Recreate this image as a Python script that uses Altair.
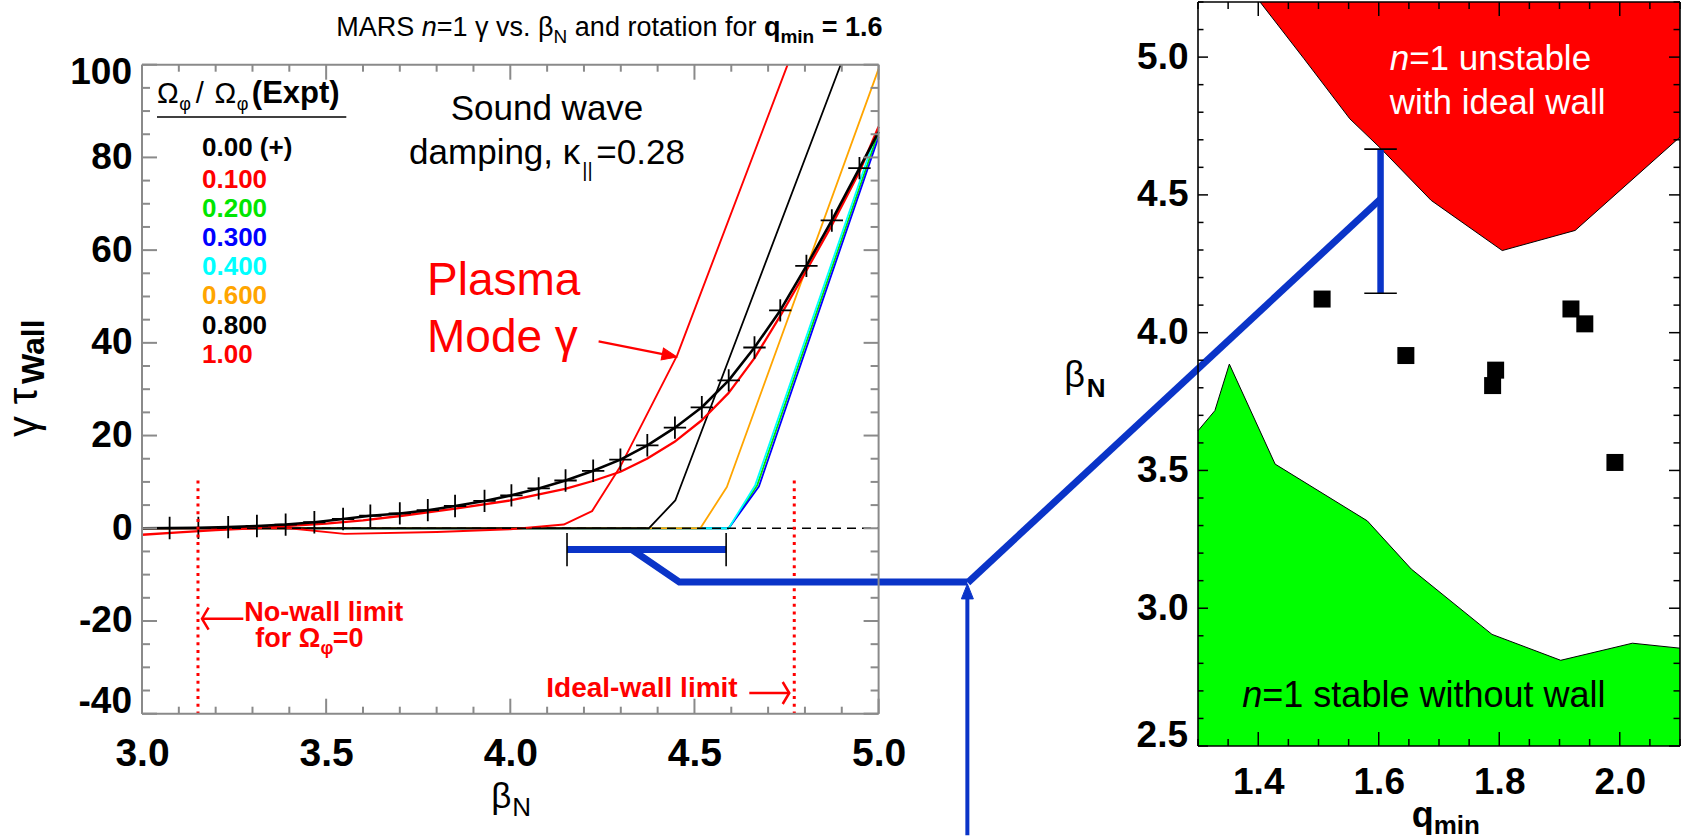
import altair as alt
import pandas as pd

FONT = "Liberation Sans, Arial, Helvetica, sans-serif"

# ---------------- values ----------------
# Left panel: gamma*tau_wall versus beta_N, one pair of lists per rotation fraction
legend_labels = ["0.00 (+)", "0.100", "0.200", "0.300", "0.400", "0.600", "0.800", "1.00"]
legend_colors = ["#000000", "#ff0000", "#00e600", "#0000ff", "#00ffff", "#ffa500", "#000000", "#ff0000"]

beta_r000 = [3.0, 3.075, 3.153, 3.234, 3.312, 3.39, 3.468, 3.546, 3.62, 3.70, 3.776, 3.85, 3.93,
             4.003, 4.077, 4.15, 4.225, 4.299, 4.372, 4.447, 4.52, 4.593, 4.663, 4.733, 4.804,
             4.873, 4.948, 5.0]
gamma_r000 = [0.0, 0.05, 0.1, 0.25, 0.5, 0.8, 1.3, 2.0, 2.7, 3.2, 3.9, 4.8, 5.9, 7.1, 8.6, 10.3,
              12.4, 14.8, 17.9, 21.7, 26.1, 31.9, 39.0, 47.0, 56.6, 66.4, 77.7, 85.5]
marker_beta = [3.075, 3.153, 3.234, 3.312, 3.39, 3.468, 3.546, 3.62, 3.70, 3.776, 3.85, 3.93,
               4.003, 4.077, 4.15, 4.225, 4.299, 4.372, 4.447, 4.52, 4.593, 4.663, 4.733, 4.804,
               4.873, 4.948]
marker_gamma = [0.05, 0.1, 0.25, 0.5, 0.8, 1.3, 2.0, 2.7, 3.2, 3.9, 4.8, 5.9, 7.1, 8.6, 10.3,
                12.4, 14.8, 17.9, 21.7, 26.1, 31.9, 39.0, 47.0, 56.6, 66.4, 77.7]

beta_r010 = [3.0, 3.40, 3.55, 3.80, 4.00, 4.145, 4.222, 4.30, 4.453, 4.753]
gamma_r010 = [0.0, 0.0, -1.2, -0.8, -0.2, 0.8, 3.7, 13.5, 37.3, 100.0]
beta_r020 = [3.0, 4.593, 4.670, 5.0]
gamma_r020 = [0.0, 0.0, 9.2, 85.5]
beta_r030 = [3.0, 4.593, 4.675, 5.0]
gamma_r030 = [0.0, 0.0, 9.0, 84.4]
beta_r040 = [3.0, 4.593, 4.665, 5.0]
gamma_r040 = [0.0, 0.0, 9.3, 86.6]
beta_r060 = [3.0, 4.516, 4.588, 5.0]
gamma_r060 = [0.0, 0.0, 8.9, 99.1]
beta_r080 = [3.0, 4.376, 4.448, 4.897]
gamma_r080 = [0.0, 0.0, 6.0, 100.0]
beta_r100 = [3.0, 3.1, 3.2, 3.3, 3.4, 3.5, 3.6, 3.701, 3.846, 4.0, 4.149, 4.224, 4.299, 4.371,
             4.445, 4.52, 4.593, 4.663, 4.733, 4.804, 4.873, 4.948, 5.0]
gamma_r100 = [-1.4, -0.9, -0.4, 0.0, 0.5, 1.0, 1.7, 2.65, 4.2, 6.0, 8.5, 10.2, 12.2, 15.0, 18.6,
              23.3, 29.2, 36.7, 45.8, 55.6, 65.4, 76.9, 86.6]

limit_beta = [3.152, 4.771]          # no-wall and ideal-wall limits
limit_gamma_top = 10.3

range_beta = [4.154, 4.586]          # blue beta_N range bar
range_gamma = -4.6
link_beta = [4.330, 4.459, 5.241]
link_gamma = [-4.6, -11.6, -11.6]
arrow_gamma = [-66.2, -13.5]

left_y_ticks = [-20, 0, 20, 40, 60, 80]
left_x_ticks = [3.0, 3.5, 4.0, 4.5, 5.0]

# Right panel: beta_N versus q_min
unstable_q = [1.403, 1.476, 1.552, 1.604, 1.687, 1.805, 1.926, 2.1]
unstable_beta = [5.2, 4.994, 4.776, 4.667, 4.48, 4.298, 4.371, 4.71]
stable_q = [1.3, 1.328, 1.352, 1.428, 1.581, 1.654, 1.788, 1.902, 2.021, 2.1]
stable_beta = [3.644, 3.717, 3.886, 3.523, 3.317, 3.142, 2.905, 2.811, 2.873, 2.855]
shot_q = [1.506, 1.645, 1.794, 1.789, 1.919, 1.942, 1.992]
shot_beta = [4.122, 3.917, 3.864, 3.808, 4.086, 4.032, 3.529]
errbar_q = 1.603
errbar_beta = [4.143, 4.666]
diag_q = [0.918, 1.603]
diag_beta = [3.093, 4.485]

right_y_ticks = [3.0, 3.5, 4.0, 4.5, 5.0]
right_x_ticks = [1.4, 1.6, 1.8, 2.0]

# ---------------- layout (page pixels) ----------------
L_X0, L_X1, L_TOP, L_BOT = 141.7, 878.3, 62.7, 711.7
R_X0, R_X1, R_BOT = 1197.3, 1679.3, 744.0
LW = L_X1 - L_X0
LH = L_BOT
G_PER = (L_BOT - L_TOP) / 140.0
G_TOP = -40 + LH / G_PER
RW = R_X1 - R_X0
RH = R_BOT
SPACING = R_X0 - L_X1

FRAME_L = "#8a8a8a"
NAVY = "#0a34c8"
ONE = pd.DataFrame({"k": [0]})

LXS = alt.Scale(domain=[3.0, 5.0], nice=False, zero=False)
LYS = alt.Scale(domain=[-40, G_TOP], nice=False, zero=False)
RXS = alt.Scale(domain=[1.3, 2.1], nice=False, zero=False)
RYS = alt.Scale(domain=[2.5, 5.2], nice=False, zero=False)

LXA = alt.Axis(values=left_x_ticks, labelExpr="format(datum.value, '.1f')", labelFont=FONT,
               labelFontSize=39, labelFontWeight="bold", labelColor="black", labelPadding=21,
               ticks=False, tickSize=0, domain=False, grid=False, title=None, labelFlush=False)
LYA = alt.Axis(values=left_y_ticks, labelExpr="'' + datum.value", labelFont=FONT,
               labelFontSize=37, labelFontWeight="bold", labelColor="black", labelPadding=10,
               ticks=False, tickSize=0, domain=False, grid=False, title=None, labelFlush=False)
RXA = alt.Axis(values=right_x_ticks, labelExpr="format(datum.value, '.1f')", labelFont=FONT,
               labelFontSize=37, labelFontWeight="bold", labelColor="black", labelPadding=18,
               ticks=False, tickSize=0, domain=False, grid=False, title=None, labelFlush=False)
RYA = alt.Axis(values=right_y_ticks, labelExpr="format(datum.value, '.1f')", labelFont=FONT,
               labelFontSize=37, labelFontWeight="bold", labelColor="black", labelPadding=10,
               ticks=False, tickSize=0, domain=False, grid=False, title=None, labelFlush=False)


def lx(f):
    return alt.X(f, type="quantitative", scale=LXS, axis=LXA)


def ly(f):
    return alt.Y(f, type="quantitative", scale=LYS, axis=LYA)


def rx(f):
    return alt.X(f, type="quantitative", scale=RXS, axis=RXA)


def ry(f):
    return alt.Y(f, type="quantitative", scale=RYS, axis=RYA)


def T(x, y, s, size, color="black", weight="normal", style="normal", align="left", angle=0):
    return alt.Chart(ONE).mark_text(text=s, font=FONT, fontSize=size, fontWeight=weight,
                                    fontStyle=style, color=color, align=align,
                                    baseline="alphabetic", angle=angle).encode(
        x=alt.value(x), y=alt.value(y))


def run(x0, y0, pieces, color="black"):
    """pieces: (text, size, weight, style, baseline shift, lead em, advance em)"""
    out = []
    x = x0
    for s, size, w, st, dy, lead, adv in pieces:
        x += lead * size
        out.append(T(x, y0 + dy, s, size, color, w, st))
        x += adv * size
    return out


def curve(b, g, color, width, dash=None):
    df = pd.DataFrame({"b": b, "g": g, "i": list(range(len(b)))})
    kw = dict(color=color, strokeWidth=width, strokeJoin="round")
    if dash:
        kw["strokeDash"] = dash
    return alt.Chart(df).mark_line(**kw).encode(x=lx("b"), y=ly("g"), order="i:Q")


def lseg(b1, g1, b2, g2, color, width, dash=None):
    df = pd.DataFrame({"b1": b1, "g1": g1, "b2": b2, "g2": g2})
    kw = dict(color=color, strokeWidth=width)
    if dash:
        kw["strokeDash"] = dash
    return alt.Chart(df).mark_rule(**kw).encode(x=lx("b1"), x2=alt.X2("b2"), y=ly("g1"),
                                                y2=alt.Y2("g2"))


def pxline(x1, y1, x2, y2, color, width):
    return alt.Chart(ONE).mark_rule(color=color, strokeWidth=width).encode(
        x=alt.value(x1), x2=alt.value(x2), y=alt.value(y1), y2=alt.value(y2))


def pxshape(x, y, path, size, color, filled, width=1.0, angle=0):
    kw = dict(shape=path, size=size, filled=filled, opacity=1, angle=angle)
    if filled:
        kw.update(fill=color, stroke=color, strokeWidth=width)
    else:
        kw.update(stroke=color, strokeWidth=width, fill="transparent")
    return alt.Chart(ONE).mark_point(**kw).encode(x=alt.value(x), y=alt.value(y))


# ======================= LEFT PANEL =======================
L = []
# invisible anchor so the left plot edge lands at page x = L_X0
L.append(alt.Chart(ONE).mark_rule(strokeOpacity=0, strokeWidth=1).encode(
    x=alt.value(-L_X0 + 0.5), x2=alt.value(-L_X0 + 0.5), y=alt.value(300), y2=alt.value(301)))

L.append(curve(beta_r020, gamma_r020, legend_colors[2], 1.8))
L.append(curve(beta_r030, gamma_r030, legend_colors[3], 1.8))
L.append(curve(beta_r040, gamma_r040, legend_colors[4], 1.8))
L.append(curve(beta_r060, gamma_r060, legend_colors[5], 1.8))
L.append(curve(beta_r080, gamma_r080, legend_colors[6], 1.8))
L.append(curve(beta_r010, gamma_r010, legend_colors[1], 1.9))
L.append(curve(beta_r100, gamma_r100, legend_colors[7], 2.3))
L.append(curve(beta_r000, gamma_r000, legend_colors[0], 2.6))
# dashed zero line
L.append(curve([3.0, 5.0], [0.0, 0.0], "black", 1.6, dash=[9, 6]))
# plus markers of the zero-rotation case
L.append(alt.Chart(pd.DataFrame({"b": marker_beta, "g": marker_gamma})).mark_point(
    shape="M-1,0L1,0M0,-1L0,1", size=500, filled=False, stroke="black", strokeWidth=1.8,
    opacity=1).encode(x=lx("b"), y=ly("g")))
# stability limits (red dotted)
L.append(lseg(limit_beta, [limit_gamma_top] * 2, limit_beta, [-40, -40], "#ff0000", 3,
              dash=[3, 4.7]))

# blue connector from the beta_N range
L.append(lseg([range_beta[0]], [range_gamma], [range_beta[1]], [range_gamma], NAVY, 7))
L.append(lseg(range_beta, [-1.0, -1.0], range_beta, [-8.2, -8.2], "black", 1.6))
L.append(alt.Chart(pd.DataFrame({"b": link_beta, "g": link_gamma, "i": [0, 1, 2]})).mark_line(
    color=NAVY, strokeWidth=7, strokeJoin="miter").encode(x=lx("b"), y=ly("g"), order="i:Q"))
L.append(lseg([link_beta[2]], [arrow_gamma[0]], [link_beta[2]], [arrow_gamma[1]], NAVY, 4))
L.append(alt.Chart(pd.DataFrame({"b": [link_beta[2]], "g": [-12.0]})).mark_point(
    shape="M0,0L0.4,1L-0.4,1Z", size=900, filled=True, fill=NAVY, stroke=NAVY, strokeWidth=1,
    opacity=1).encode(x=lx("b"), y=ly("g")))

# frame and inward ticks
L.append(pxline(0, L_TOP, LW, L_TOP, FRAME_L, 2))
L.append(pxline(0, L_BOT, LW, L_BOT, FRAME_L, 2))
L.append(pxline(0, L_TOP, 0, L_BOT, FRAME_L, 2))
L.append(pxline(LW, L_TOP, LW, L_BOT, FRAME_L, 2))
gy_minor = [v for v in range(-40, 101, 5) if v % 20 != 0]
gy_major = [v for v in range(-40, 101, 20)]
bx_all = [round(3.0 + 0.1 * i, 2) for i in range(21)]
bx_major = [v for v in bx_all if abs(v * 2 - round(v * 2)) < 1e-6]
bx_minor = [v for v in bx_all if v not in bx_major]
for vals, ln in ((gy_minor, 8), (gy_major, 15)):
    d = pd.DataFrame({"v": vals})
    L.append(alt.Chart(d).mark_rule(color=FRAME_L, strokeWidth=2).encode(
        y=ly("v"), x=alt.value(0), x2=alt.value(ln)))
    L.append(alt.Chart(d).mark_rule(color=FRAME_L, strokeWidth=2).encode(
        y=ly("v"), x=alt.value(LW - ln), x2=alt.value(LW)))
for vals, ln in ((bx_minor, 7), (bx_major, 15)):
    d = pd.DataFrame({"v": vals})
    L.append(alt.Chart(d).mark_rule(color=FRAME_L, strokeWidth=2).encode(
        x=lx("v"), y=alt.value(L_BOT), y2=alt.value(L_BOT - ln)))
    L.append(alt.Chart(d).mark_rule(color=FRAME_L, strokeWidth=2).encode(
        x=lx("v"), y=alt.value(L_TOP), y2=alt.value(L_TOP + ln)))

# end labels of the y axis, pulled inside like the original
for v, dy in ((100, 8), (-40, -12)):
    L.append(alt.Chart(pd.DataFrame({"v": [v], "s": [str(v)]})).mark_text(
        font=FONT, fontSize=37, fontWeight="bold", color="black", align="right",
        baseline="middle", dy=dy).encode(y=ly("v"), x=alt.value(-10), text="s:N"))


def lp(xpage):
    return xpage - L_X0


# title
L += run(lp(336), 34, [
    ("MARS", 27, "normal", "normal", 0, 0, 3.167),
    ("n", 27, "normal", "italic", 0, 0, 0.556),
    ("=1 γ vs. β", 27, "normal", "normal", 0, 0, 4.326),
    ("N", 19, "normal", "normal", 7, 0, 0.722),
    ("and rotation for", 27, "normal", "normal", 0, 0.278, 6.726),
    ("q", 27, "bold", "normal", 0, 0.278, 0.611),
    ("min", 19, "bold", "normal", 7, 0, 1.778),
    ("= 1.6", 27, "bold", "normal", 0, 0.278, 2.252),
])
# legend header
L += run(lp(156.7), 101, [
    ("Ω", 29, "normal", "normal", 0, 0, 0.768),
    ("φ", 18, "normal", "normal", 7, 0, 0.75),
    ("/", 29, "normal", "normal", 0, 0.1, 0.55),
    ("Ω", 29, "normal", "normal", 0, 0.1, 0.768),
    ("φ", 18, "normal", "normal", 7, 0, 0.75),
    ("(Expt)", 31, "bold", "normal", 0, 0.05, 2.833),
])
L.append(pxline(lp(156.7), 115, lp(346), 115, "black", 1.6))
legend_base = [154, 185.7, 214.7, 244, 273, 302.3, 332.3, 360.7]
for lab, col, yb in zip(legend_labels, legend_colors, legend_base):
    L.append(T(lp(201.7), yb, lab, 26, col, "bold"))

# sound-wave note
L.append(T(lp(546.7), 118, "Sound wave", 35, align="center"))
L.append(T(lp(580), 162, "damping, κ", 35, align="right"))
L.append(T(lp(582), 175, "||", 20))
L.append(T(lp(596), 162, "=0.28", 35))
# plasma mode note + arrow
L.append(T(lp(426.7), 293, "Plasma", 46, "#ff0000"))
L.append(T(lp(426.7), 350, "Mode γ", 46, "#ff0000"))
L.append(pxline(lp(598.3), 339.3, lp(670), 353.6, "#ff0000", 2.2))
L.append(pxshape(lp(676.7), 355, "M0,0L-1,-0.4L-1,0.4Z", 900, "#ff0000", True, 1, angle=11.3))
# limit notes
L.append(T(lp(244), 619, "No-wall limit", 27, "#ff0000", "bold"))
L += run(lp(255), 645, [
    ("for Ω", 27, "bold", "normal", 0, 0, 2.40),
    ("φ", 18, "bold", "normal", 7, 0.02, 0.65),
    ("=0", 27, "bold", "normal", 0, 0.02, 1.14),
], color="#ff0000")
L.append(pxline(lp(202.5), 616.7, lp(243), 616.7, "#ff0000", 2.5))
L.append(pxshape(lp(201.7), 616.7, "M0.6,-1L0,0L0.6,1", 484, "#ff0000", False, 2.5))
L.append(T(lp(546), 695, "Ideal-wall limit", 28, "#ff0000", "bold"))
L.append(pxline(lp(749), 691, lp(788), 691, "#ff0000", 2.5))
L.append(pxshape(lp(789), 691, "M-0.6,-1L0,0L-0.6,1", 484, "#ff0000", False, 2.5))

# axis titles
L.append(T(lp(37), 435, "γ τ", 42, angle=270))
L.append(T(lp(44), 382, "Wall", 32, weight="bold", angle=270))
L.append(T(lp(491), 806, "β", 35))
L.append(T(lp(512), 814, "N", 26))

left = alt.layer(*L).properties(width=LW, height=LH)

# ======================= RIGHT PANEL =======================
R = []


def rp(xpage):
    return xpage - R_X0


R.append(alt.Chart(pd.DataFrame({"q": stable_q, "b": stable_beta, "t": [2.5] * len(stable_q)}))
         .mark_area(color="#00ff00", opacity=1).encode(x=rx("q"), y=ry("b"), y2=alt.Y2("t")))
R.append(alt.Chart(pd.DataFrame({"q": unstable_q, "b": unstable_beta,
                                 "t": [5.2] * len(unstable_q)}))
         .mark_area(color="#ff0000", opacity=1).encode(x=rx("q"), y=ry("b"), y2=alt.Y2("t")))
R.append(alt.Chart(pd.DataFrame({"q": stable_q, "b": stable_beta})).mark_line(
    color="black", strokeWidth=1).encode(x=rx("q"), y=ry("b")))
R.append(alt.Chart(pd.DataFrame({"q": unstable_q, "b": unstable_beta})).mark_line(
    color="black", strokeWidth=1).encode(x=rx("q"), y=ry("b")))
R.append(alt.Chart(pd.DataFrame({"q": shot_q, "b": shot_beta})).mark_point(
    shape="square", size=289, filled=True, color="black", opacity=1).encode(x=rx("q"), y=ry("b")))
R.append(alt.Chart(pd.DataFrame({"q": diag_q, "b": diag_beta})).mark_line(
    color=NAVY, strokeWidth=7).encode(x=rx("q"), y=ry("b")))
R.append(alt.Chart(pd.DataFrame({"q": [errbar_q], "b1": [errbar_beta[0]], "b2": [errbar_beta[1]]}))
         .mark_rule(color=NAVY, strokeWidth=6.5).encode(x=rx("q"), y=ry("b1"), y2=alt.Y2("b2")))
R.append(alt.Chart(pd.DataFrame({"q1": [errbar_q - 0.027] * 2, "q2": [errbar_q + 0.027] * 2,
                                 "b": errbar_beta}))
         .mark_rule(color="black", strokeWidth=1.6).encode(x=rx("q1"), x2=alt.X2("q2"), y=ry("b")))

# frame and inward ticks
R.append(pxline(0, 0, RW, 0, "black", 1.6))
R.append(pxline(0, RH, RW, RH, "black", 1.6))
R.append(pxline(0, 0, 0, RH, "black", 1.6))
R.append(pxline(RW, 0, RW, RH, "black", 1.6))
by_all = [round(2.5 + 0.1 * i, 2) for i in range(28)]
by_major = [v for v in by_all if abs(v * 2 - round(v * 2)) < 1e-6]
by_minor = [v for v in by_all if v not in by_major]
qx_all = [round(1.3 + 0.05 * i, 3) for i in range(17)]
qx_major = [1.4, 1.6, 1.8, 2.0]
qx_minor = [v for v in qx_all if all(abs(v - m) > 1e-6 for m in qx_major)]
for vals, ln in ((by_minor, 5.5), (by_major, 10)):
    d = pd.DataFrame({"v": vals})
    R.append(alt.Chart(d).mark_rule(color="black", strokeWidth=1.5).encode(
        y=ry("v"), x=alt.value(0), x2=alt.value(ln)))
    R.append(alt.Chart(d).mark_rule(color="black", strokeWidth=1.5).encode(
        y=ry("v"), x=alt.value(RW - ln - 1), x2=alt.value(RW)))
for vals, ln in ((qx_minor, 7), (qx_major, 14)):
    d = pd.DataFrame({"v": vals})
    R.append(alt.Chart(d).mark_rule(color="black", strokeWidth=1.5).encode(
        x=rx("v"), y=alt.value(RH), y2=alt.value(RH - ln)))
    R.append(alt.Chart(d).mark_rule(color="black", strokeWidth=1.5).encode(
        x=rx("v"), y=alt.value(0), y2=alt.value(ln)))
R.append(alt.Chart(pd.DataFrame({"v": [2.5], "s": ["2.5"]})).mark_text(
    font=FONT, fontSize=37, fontWeight="bold", color="black", align="right",
    baseline="middle", dy=-10).encode(y=ry("v"), x=alt.value(-10), text="s:N"))

# region labels
R += run(rp(1389), 68, [("n", 35, "normal", "italic", 0, 0, 0.556),
                        ("=1 unstable", 35, "normal", "normal", 0, 0, 5.2)], color="white")
R.append(T(rp(1389), 112, "with ideal wall", 35, "white"))
R += run(rp(1241.6), 705, [("n", 36, "normal", "italic", 0, 0, 0.556),
                           ("=1 stable without wall", 36, "normal", "normal", 0, 0, 9.9)])
# axis titles
R.append(T(rp(1063.5), 385, "β", 36))
R.append(T(rp(1086), 395, "N", 26, weight="bold"))
R.append(T(rp(1411), 825, "q", 36, weight="bold"))
R.append(T(rp(1433), 832, "min", 26, weight="bold"))

right = alt.layer(*R).properties(width=RW, height=RH)

chart = alt.hconcat(left, right, spacing=SPACING, bounds="flush").properties(
    padding=0, background="white").configure_view(strokeWidth=0)

chart.save("out.html", embed_options={"renderer": "svg", "actions": False})
